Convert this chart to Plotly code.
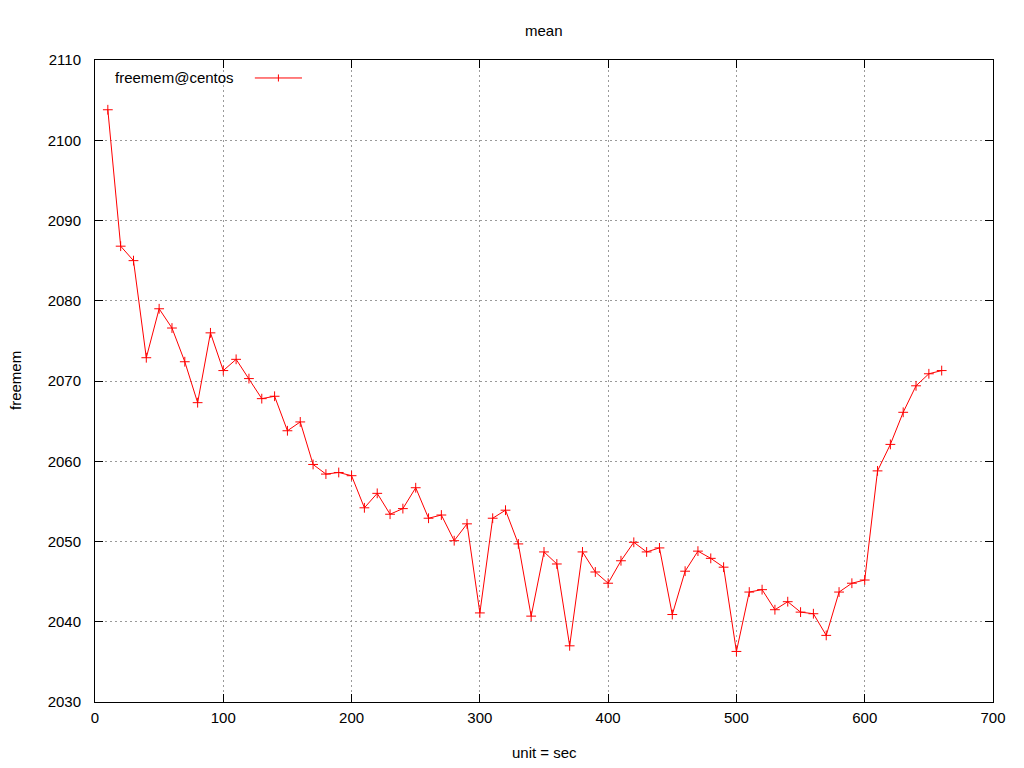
import plotly.graph_objects as go

time_sec = [10, 20, 30, 40, 50, 60, 70, 80, 90, 100, 110, 120, 130, 140, 150, 160, 170, 180, 190, 200,
            210, 220, 230, 240, 250, 260, 270, 280, 290, 300, 310, 320, 330, 340, 350, 360, 370, 380, 390, 400,
            410, 420, 430, 440, 450, 460, 470, 480, 490, 500, 510, 520, 530, 540, 550, 560, 570, 580, 590, 600,
            610, 620, 630, 640, 650, 660]
freemem = [2103.8, 2086.8, 2085.0, 2072.9, 2079.0, 2076.6, 2072.4, 2067.3, 2076.0, 2071.3,
           2072.7, 2070.3, 2067.8, 2068.1, 2063.8, 2064.9, 2059.6, 2058.4, 2058.6, 2058.2,
           2054.2, 2056.0, 2053.4, 2054.1, 2056.7, 2052.9, 2053.3, 2050.1, 2052.2, 2041.1,
           2052.9, 2053.9, 2049.7, 2040.7, 2048.7, 2047.2, 2037.0, 2048.7, 2046.2, 2044.8,
           2047.6, 2049.9, 2048.7, 2049.2, 2040.9, 2046.3, 2048.8, 2047.9, 2046.8, 2036.3,
           2043.7, 2044.0, 2041.5, 2042.5, 2041.2, 2041.0, 2038.3, 2043.7, 2044.8, 2045.2,
           2058.8, 2062.1, 2066.1, 2069.4, 2070.9, 2071.3]

series_name = "freemem@centos"
x_ticks = [0, 100, 200, 300, 400, 500, 600, 700]
y_ticks = [2030, 2040, 2050, 2060, 2070, 2080, 2090, 2100, 2110]

FONT = "Liberation Sans, Arial, sans-serif"
RED = "#ff0000"
FS = 15

fig = go.Figure()
fig.add_trace(go.Scatter(
    x=time_sec, y=freemem, mode="lines+markers", name=series_name,
    line=dict(color=RED, width=1),
    marker=dict(symbol="cross-thin", size=7, line=dict(color=RED, width=1), color=RED),
    showlegend=False,
))

axis_common = dict(
    showline=True, linecolor="black", linewidth=1, mirror="ticks",
    ticks="inside", ticklen=8, tickcolor="black", tickwidth=1,
    showgrid=True, gridcolor="#9a9a9a", griddash="2px,3px", gridwidth=1,
    zeroline=False, tickfont=dict(family=FONT, size=FS, color="black"),
)

fig.update_xaxes(range=[0, 700], tickvals=x_ticks, ticklabelstandoff=2, **axis_common)
fig.update_yaxes(range=[2030, 2110], tickvals=y_ticks, ticklabelstandoff=10, **axis_common)

# key sample (line + cross) to the right of the label, like gnuplot
kx0, kx1, ky = 0.178, 0.2305, 0.972
fig.add_shape(type="line", xref="paper", yref="paper", x0=kx0, x1=kx1, y0=ky, y1=ky,
              line=dict(color=RED, width=1))
kxm = (kx0 + kx1) / 2
fig.add_shape(type="line", xref="paper", yref="paper", x0=kxm, x1=kxm, y0=ky - 0.0055, y1=ky + 0.0055,
              line=dict(color=RED, width=1))

fig.update_layout(
    width=1024, height=768,
    margin=dict(l=87, r=39, t=52, b=74),
    paper_bgcolor="white", plot_bgcolor="white",
    font=dict(family=FONT, size=FS, color="black"),
    annotations=[
        dict(text="mean", xref="paper", yref="paper", x=0.5, y=1, yshift=30, showarrow=False,
             font=dict(size=FS), xanchor="center", yanchor="middle"),
        dict(text="unit = sec", xref="paper", yref="paper", x=0.5, y=0, yshift=-50, showarrow=False,
             font=dict(size=FS), xanchor="center", yanchor="middle"),
        dict(text="freemem", xref="paper", yref="paper", x=0, y=0.5, xshift=-80, showarrow=False,
             textangle=-90, font=dict(size=FS), xanchor="center", yanchor="middle"),
        dict(text=series_name, xref="paper", yref="paper", x=0.02, y=ky, showarrow=False,
             font=dict(size=FS), xanchor="left", yanchor="middle"),
    ],
)

fig.write_html("out.html")
